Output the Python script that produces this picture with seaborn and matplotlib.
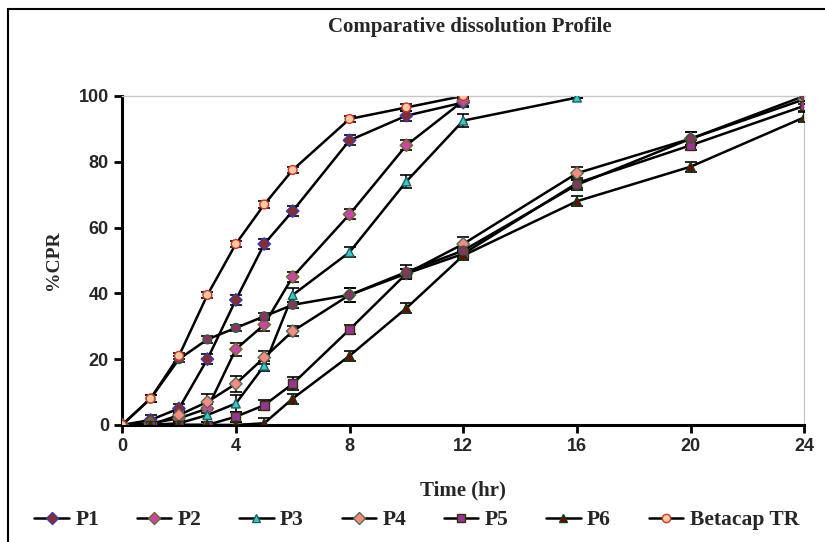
import numpy as np
import matplotlib
matplotlib.use("Agg")
import matplotlib.pyplot as plt
import pandas as pd
import seaborn as sns
from matplotlib.lines import Line2D
from matplotlib.patches import Rectangle

# time points (hr)
t_all = [0, 1, 2, 3, 4, 5, 6, 8, 10, 12, 16, 20, 24]

# %CPR
p1 = [0, 1.5, 5, 20, 38, 55, 65, 86.5, 94, 98]
p2 = [0, 0.5, 2, 5, 23, 30.5, 45, 64, 85, 98.5]
p3 = [0, 0, 0.5, 3, 6.5, 18, 39.5, 52.5, 74, 92.5, 99.5]
p4 = [0, 0, 3, 7, 12.5, 20.5, 28.5, 39.5, 46, 55, 76.5, 87, 99]
p5 = [0, 0, 0, 0, 2.5, 6, 12.5, 29, 46, 52, 73.5, 85, 97]
p6 = [0, 0, 0, 0, 0, 0.5, 8, 21, 35.5, 51.5, 68, 78.5, 93.5]
p7 = [0, 8, 20, 26, 29.5, 33, 36.5, 39.5, 46.5, 53, 73, 87, 100]
betacap = [0, 8, 21, 39.5, 55, 67, 77.5, 93, 96.5, 100]

# error bar half-lengths
sd1 = [0, 1.5, 1.5, 1.5, 1.5, 1.5, 1.5, 1.5, 1.5, 1.5]
sd2 = [0, 1, 1.5, 1.5, 2, 2, 1.5, 1.5, 1.5, 1.5]
sd3 = [0, 1, 1, 2, 2.5, 1.5, 2, 1.5, 2, 2, 0]
sd4 = [0, 1, 1.5, 2.5, 2.5, 2, 1.5, 2, 1.5, 2, 2, 2, 1.5]
sd5 = [0, 1, 1, 1, 1.5, 1.5, 2, 1.5, 1.5, 1.5, 1.5, 1.5, 1.5]
sd6 = [0, 1, 1, 1, 1, 1.5, 1.5, 1.5, 1.5, 1.5, 1.5, 1.5, 1.5]
sd7 = [0, 1, 1, 1, 1, 1, 1, 2, 2, 2, 1.5, 2, 1.5]
sd8 = [0, 1, 1, 1, 1, 1, 1, 1, 1, 1]

names = ["P1", "P2", "P3", "P4", "P5", "P6", "P7", "Betacap TR"]
values = [p1, p2, p3, p4, p5, p6, p7, betacap]
errors = [sd1, sd2, sd3, sd4, sd5, sd6, sd7, sd8]

face = {"P1": "#8b2b2b", "P2": "#cc44aa", "P3": "#33cccc", "P4": "#ff8a80",
        "P5": "#993399", "P6": "#7a0000", "P7": "#8e2f6a", "Betacap TR": "#ffcc99"}
edge = {"P1": "#3a3ab0", "P2": "#6b6b2a", "P3": "#1f5f5f", "P4": "#556b55",
        "P5": "#333300", "P6": "#0f3f0f", "P7": "#2f5f2f", "Betacap TR": "#cc3333"}
mark = {"P1": "D", "P2": "D", "P3": "^", "P4": "D", "P5": "s", "P6": "^",
        "P7": "o", "Betacap TR": "o"}

rows = []
for n, v, e in zip(names, values, errors):
    for t, y, s in zip(t_all, v, e):
        rows.append({"series": n, "time": t, "cpr": y, "sd": s})
df = pd.DataFrame(rows)

sns.set_style("white")
fig = plt.figure(figsize=(8.25, 5.42), dpi=100)
ax = fig.add_axes([0.148, 0.216, 0.827, 0.607])

sns.lineplot(data=df, x="time", y="cpr", units="series", estimator=None,
             color="black", lw=1.8, sort=True, ax=ax, legend=False, zorder=2)

for n in names:
    d = df[df.series == n]
    ax.errorbar(d.time, d.cpr, yerr=d.sd, fmt="none", ecolor="black",
                elinewidth=1.2, capsize=4, capthick=1.2, zorder=3)

sns.scatterplot(data=df, x="time", y="cpr", hue="series", style="series",
                palette=face, markers=mark, s=40, linewidth=1.0,
                edgecolor=[edge[n] for n in df.series], ax=ax, legend=False, zorder=4)

ax.set_xlim(0, 24)
ax.set_ylim(0, 100)
ax.set_xticks(range(0, 25, 4))
ax.set_yticks(range(0, 101, 20))
for s in ["left", "bottom"]:
    ax.spines[s].set_color("black")
    ax.spines[s].set_linewidth(2.2)
for s in ["top", "right"]:
    ax.spines[s].set_color("#c8c8c8")
    ax.spines[s].set_linewidth(1.0)
ax.tick_params(axis="both", direction="out", length=6, width=2, color="black",
               labelsize=13, bottom=True, left=True)
for lab in ax.get_xticklabels() + ax.get_yticklabels():
    lab.set_fontweight("bold")
    lab.set_family("Liberation Sans")

serif = "Liberation Serif"
ax.set_xlabel("Time (hr)", fontsize=15, fontweight="bold", family=serif, labelpad=18)
ax.set_ylabel("%CPR", fontsize=14, fontweight="bold", family=serif, labelpad=12)
fig.text(0.57, 0.95, "Comparative dissolution Profile", ha="center", va="center",
         fontsize=15, fontweight="bold", family=serif)

handles = [Line2D([], [], color="black", lw=1.8, marker=mark[n], markersize=6,
                  markerfacecolor=face[n], markeredgecolor=edge[n])
           for n in names if n != "P7"]
labels = [n for n in names if n != "P7"]
fig.legend(handles, labels, loc="center", bbox_to_anchor=(0.505, 0.04), ncol=7,
           frameon=False, handlelength=1.6, columnspacing=1.75, handletextpad=0.3,
           prop={"family": serif, "weight": "bold", "size": 15.5})

fig.patches.append(Rectangle((0.0097, -0.2), 1.2, 1.183, transform=fig.transFigure,
                             fill=False, edgecolor="black", lw=1.5))

fig.savefig("out.png", dpi=100)
